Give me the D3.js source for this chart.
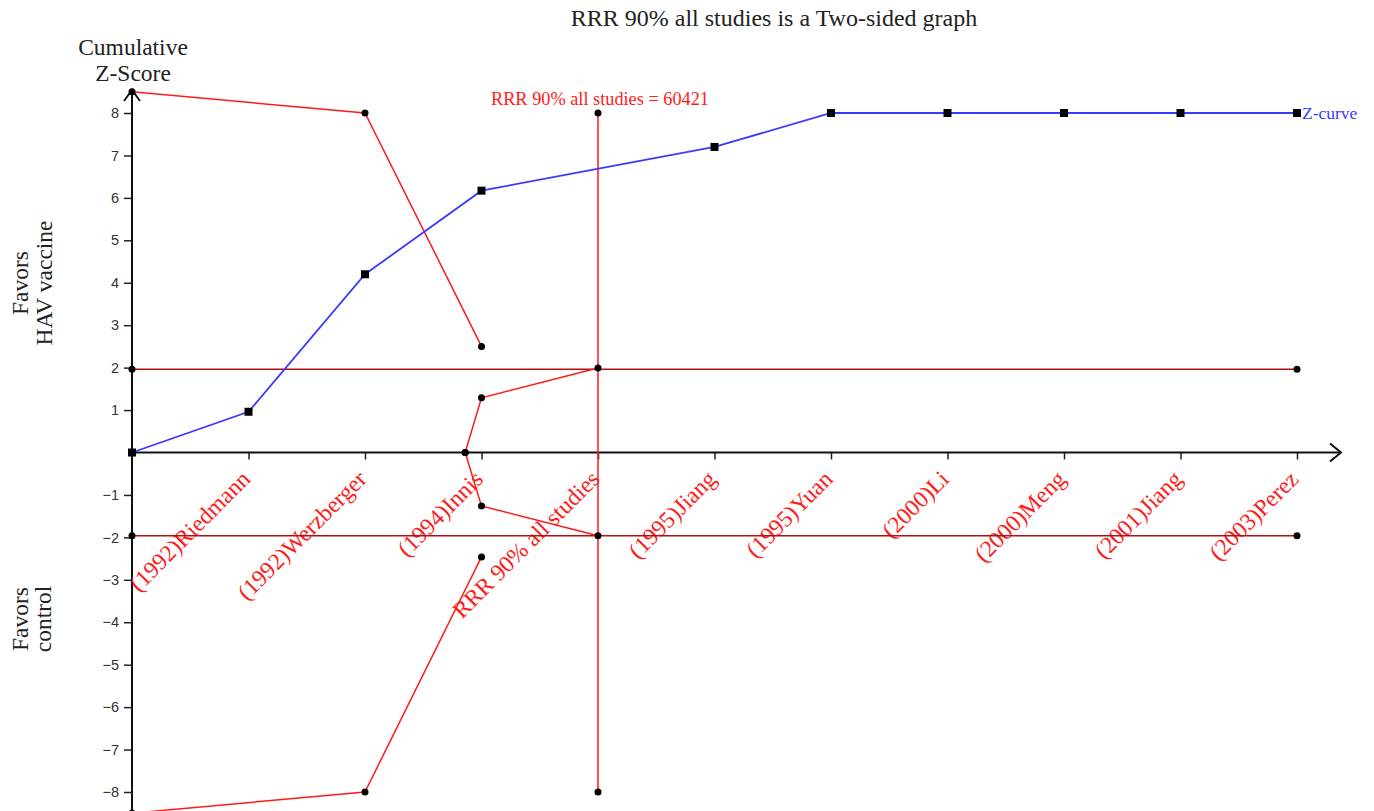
<!DOCTYPE html>
<html>
<head>
<meta charset="utf-8">
<script src="https://cdn.jsdelivr.net/npm/d3@7"></script>
<style>
  html, body { margin: 0; padding: 0; background: #fff; }
  svg { display: block; }
</style>
</head>
<body>
<svg id="chart" width="1374" height="811"></svg>
<script>
// ---------- data ----------
const studyLabels = ["(1992)Riedmann", "(1992)Werzberger", "(1994)Innis", "RRR 90% all studies",
  "(1995)Jiang", "(1995)Yuan", "(2000)Li", "(2000)Meng", "(2001)Jiang", "(2003)Perez"];
const labelPositions = [1, 2, 3, 4, 5, 6, 7, 8, 9, 10];
const zCurveX = [0, 1, 2, 3, 5, 6, 7, 8, 9, 10];
const zCurveY = [0, 0.96, 4.2, 6.17, 7.2, 8, 8, 8, 8, 8];
const upperBoundX = [0, 2, 3];
const upperBoundY = [8.5, 8, 2.5];
const lowerBoundX = [0, 2, 3];
const lowerBoundY = [-8.5, -8, -2.46];
const upperInnerX = [2.86, 3, 4];
const upperInnerY = [0, 1.29, 1.99];
const lowerInnerX = [2.86, 3, 4];
const lowerInnerY = [0, -1.26, -1.96];
const conventionalZ = [1.96, -1.96];
const rrrPosition = 4;
const rrrRange = [8, -8];
const yTicks = [-8, -7, -6, -5, -4, -3, -2, -1, 1, 2, 3, 4, 5, 6, 7, 8];
const titleText = "RRR 90% all studies is a Two-sided graph";
const rrrLabel = "RRR 90% all studies = 60421";

// ---------- layout ----------
const svg = d3.select("#chart");
const serif = "'Liberation Serif', 'Times New Roman', serif";
const sans = "'Liberation Sans', Arial, sans-serif";
const RED = "#ff1a1a", DARKRED = "#b01010", BLUE = "#3a3aff";

const x = d3.scaleLinear().domain([0, 10]).range([132, 1297]);
const y = d3.scaleLinear().domain([-8, 8]).range([792, 113]);

// title
svg.append("text").attr("x", 774).attr("y", 26).attr("text-anchor", "middle")
  .attr("font-family", serif).attr("font-size", 24).attr("fill", "#222").text(titleText);

// y-axis title
svg.append("text").attr("x", 133).attr("y", 55).attr("text-anchor", "middle")
  .attr("font-family", serif).attr("font-size", 23.5).attr("fill", "#222").text("Cumulative");
svg.append("text").attr("x", 133).attr("y", 81).attr("text-anchor", "middle")
  .attr("font-family", serif).attr("font-size", 23.5).attr("fill", "#222").text("Z-Score");

// side labels
function sideLabel(lines, cy, xs) {
  lines.forEach((t, i) => {
    svg.append("text").attr("transform", `translate(${xs[i]},${cy}) rotate(-90)`)
      .attr("text-anchor", "middle").attr("font-family", serif).attr("font-size", 23.5)
      .attr("fill", "#222").text(t);
  });
}
sideLabel(["Favors", "HAV vaccine"], 283, [28, 52]);
sideLabel(["Favors", "control"], 619, [28, 51]);

// y axis ticks
const yAxis = d3.axisLeft(y).tickValues(yTicks).tickSize(8).tickPadding(5)
  .tickFormat(d3.format("d"));
const gy = svg.append("g").attr("transform", `translate(${x(0)},0)`).call(yAxis);
gy.select(".domain").remove();
gy.selectAll(".tick line").attr("stroke", "#222").attr("stroke-width", 1.5);
gy.selectAll(".tick text").attr("font-family", sans).attr("font-size", 14.5).attr("fill", "#333");

// x axis ticks
const xAxis = d3.axisBottom(x).tickValues(labelPositions).tickSize(7).tickFormat("");
const gx = svg.append("g").attr("transform", `translate(0,${y(0)})`).call(xAxis);
gx.select(".domain").remove();
gx.selectAll(".tick line").attr("stroke", "#222").attr("stroke-width", 1.5);

// axis lines with arrowheads
const axisG = svg.append("g").attr("stroke", "#111").attr("stroke-width", 2).attr("fill", "none");
axisG.append("line").attr("x1", x(0)).attr("y1", 811).attr("x2", x(0)).attr("y2", 90);
axisG.append("path").attr("d", `M${x(0) - 8},${101} L${x(0)},${90} L${x(0) + 8},${101}`);
axisG.append("line").attr("x1", x(0)).attr("y1", y(0)).attr("x2", 1341).attr("y2", y(0));
axisG.append("path").attr("d", `M1330,${y(0) - 9} L1341,${y(0)} L1330,${y(0) + 9}`);

// x labels
svg.append("g").selectAll("text").data(studyLabels).join("text")
  .attr("transform", (d, i) => `translate(${x(labelPositions[i]) + 3},${y(0) + 28}) rotate(-45)`)
  .attr("text-anchor", "end").attr("font-family", serif).attr("font-size", 23.5)
  .attr("fill", RED).text(d => d);

const line = d3.line().x(d => x(d[0])).y(d => y(d[1]));
const zip = (a, b) => a.map((v, i) => [v, b[i]]);

// conventional boundaries
conventionalZ.forEach(z => {
  svg.append("path").attr("d", line([[0, z], [10, z]])).attr("stroke", DARKRED)
    .attr("stroke-width", 1.5).attr("fill", "none");
});

// RRR vertical
svg.append("path").attr("d", line([[rrrPosition, rrrRange[0]], [rrrPosition, rrrRange[1]]]))
  .attr("stroke", RED).attr("stroke-width", 1.5).attr("fill", "none");
svg.append("text").attr("x", x(rrrPosition) + 2).attr("y", 105).attr("text-anchor", "middle")
  .attr("font-family", serif).attr("font-size", 18.3).attr("fill", RED).text(rrrLabel);

// boundaries
const boundaries = [zip(upperBoundX, upperBoundY), zip(lowerBoundX, lowerBoundY),
  zip(upperInnerX, upperInnerY), zip(lowerInnerX, lowerInnerY)];
boundaries.forEach(b => {
  svg.append("path").attr("d", line(b)).attr("stroke", RED).attr("stroke-width", 1.5).attr("fill", "none");
});

// z-curve
const zpts = zip(zCurveX, zCurveY);
svg.append("path").attr("d", line(zpts)).attr("stroke", BLUE).attr("stroke-width", 1.8).attr("fill", "none");

// dots
const dotPts = [].concat(...boundaries,
  conventionalZ.map(z => [0, z]), conventionalZ.map(z => [10, z]),
  rrrRange.map(z => [rrrPosition, z]));
svg.append("g").selectAll("circle").data(dotPts).join("circle")
  .attr("cx", d => x(d[0])).attr("cy", d => y(d[1])).attr("r", 3.5).attr("fill", "#000");

svg.append("g").selectAll("rect").data(zpts).join("rect")
  .attr("x", d => x(d[0]) - 4).attr("y", d => y(d[1]) - 4).attr("width", 8).attr("height", 8)
  .attr("fill", "#000");

svg.append("text").attr("x", x(10) + 5).attr("y", y(8) + 6).attr("font-family", serif)
  .attr("font-size", 17.5).attr("fill", BLUE).text("Z-curve");
</script>
</body>
</html>
